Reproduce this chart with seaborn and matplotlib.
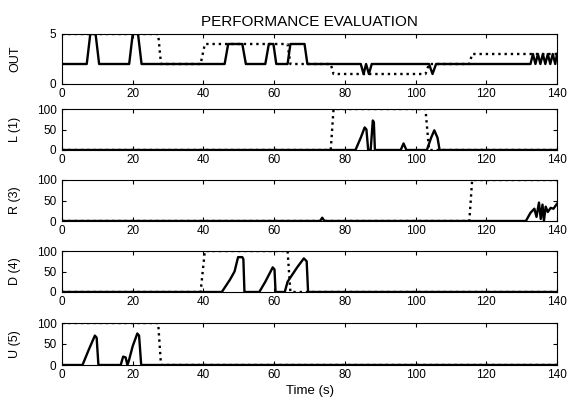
import numpy as np
import pandas as pd
import matplotlib
matplotlib.use("Agg")
import matplotlib.pyplot as plt
import seaborn as sns

# network output (solid) for the OUT panel
out_t = [0, 7, 8, 9.5, 10.5, 19, 20, 21.5, 22.5, 46, 47, 51, 52, 57.5, 58.5, 59.8, 60.6,
         63.8, 64.6, 68.6, 69.4, 84.5, 85.3, 86.0, 86.8, 87.6, 103.8, 104.8, 105.8,
         132.5, 133.2, 133.9, 134.6, 135.3, 136.0, 136.7, 137.4, 138.1, 138.8, 139.5, 140]
out_v = [2, 2, 5, 5, 2, 2, 5, 5, 2, 2, 4, 4, 2, 2, 4, 4, 2,
         2, 4, 4, 2, 2, 1, 2, 1, 2, 2, 1, 2,
         2, 3, 2, 3, 2, 3, 2, 3, 2, 3, 2, 3]

# target class (dotted)
tgt_t = [0, 27.2, 28.0, 39.2, 40.4, 63.8, 64.6, 76.0, 76.8, 102.8, 103.8, 115.2, 116.0, 140]
tgt_v = [5, 5, 2, 2, 4, 4, 2, 2, 1, 1, 2, 2, 3, 3]

# class outputs (%)
l_t = [0, 83, 84.5, 85.6, 86.1, 86.6, 87.3, 87.9, 88.2, 88.5, 95.8, 96.6, 97.4,
       103.2, 104.4, 105.3, 106.2, 106.8, 140]
l_v = [0, 0, 30, 55, 50, 0, 0, 72, 68, 0, 0, 16, 0,
       0, 30, 48, 30, 0, 0]

r_t = [0, 73.0, 73.6, 74.2, 131.2, 132.5, 133.6, 134.2, 134.9, 135.4, 135.9, 136.3,
       136.8, 137.4, 138.2, 139.0, 140]
r_v = [0, 0, 8, 0, 0, 20, 30, 10, 45, 5, 40, 0,
       35, 22, 32, 30, 42]

d_t = [0, 45.2, 47.5, 48.8, 49.8, 51.0, 51.3, 51.6, 55.8, 57.5, 59.6, 60.1, 60.4,
       63.0, 63.8, 64.8, 66.5, 68.4, 69.2, 69.6, 140]
d_v = [0, 0, 30, 50, 85, 85, 80, 0, 0, 25, 60, 55, 0,
       0, 25, 38, 60, 82, 75, 0, 0]

u_t = [0, 5.8, 7.5, 9.3, 9.8, 10.3, 16.6, 17.3, 18.0, 18.5, 18.9, 20.0, 21.3, 21.8, 22.4, 140]
u_v = [0, 0, 35, 70, 65, 0, 0, 20, 18, 0, 10, 45, 75, 70, 0, 0]

panels = [("OUT", None, out_t, out_v),
          ("L (1)", 1, l_t, l_v),
          ("R (3)", 3, r_t, r_v),
          ("D (4)", 4, d_t, d_v),
          ("U (5)", 5, u_t, u_v)]

plt.rcParams['font.family'] = ['Liberation Sans', 'DejaVu Sans']
plt.rcParams['font.size'] = 8.5

W, H = 581, 399
fig = plt.figure(figsize=(W / 100, H / 100), dpi=100)

# pixel boxes (top, bottom) of each panel
boxes = [(34, 84), (109, 150), (180, 221), (251, 292), (323, 365)]
left, right = 62, 557

tgt = pd.DataFrame({"t": tgt_t, "v": tgt_v})

for i, (name, cls, t, v) in enumerate(panels):
    top, bot = boxes[i]
    ax = fig.add_axes([left / W, 1 - bot / H, (right - left) / W, (bot - top) / H])
    if cls is None:
        dotted = tgt["v"]
        ymax = 5
        ax.set_yticks([0, 5])
    else:
        dotted = (tgt["v"] == cls).astype(float) * 100
        ymax = 100
        ax.set_yticks([0, 50, 100])
    sns.lineplot(x=tgt["t"], y=dotted, ax=ax, color="black", linestyle=":", linewidth=1.7)
    sns.lineplot(x=t, y=v, ax=ax, color="black", linewidth=1.7)
    ax.set_xlim(0, 140)
    ax.set_ylim(0, ymax)
    ax.set_xticks(range(0, 141, 20))
    ax.set_ylabel(name, fontsize=9)
    ax.yaxis.set_label_coords((21 - left) / (right - left), 0.5)
    ax.set_xlabel("")
    ax.tick_params(direction="in", top=True, right=True, length=3, width=0.8)
    ax.tick_params(axis="y", pad=4)
    ax.tick_params(axis="x", pad=3)
    for s in ax.spines.values():
        s.set_linewidth(0.8)
    if i == 0:
        ax.set_title("PERFORMANCE EVALUATION", fontsize=11, pad=6)
    if i == 4:
        ax.set_xlabel("Time (s)", fontsize=9.5, labelpad=3)

fig.savefig("out.png", dpi=100)
